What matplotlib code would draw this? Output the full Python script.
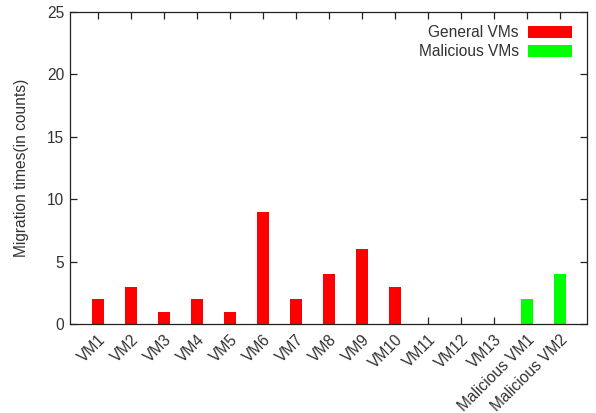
import matplotlib
matplotlib.use("Agg")
import matplotlib.pyplot as plt
import numpy as np

plt.rcParams["font.family"] = ["Liberation Sans", "DejaVu Sans"]

general_names = ["VM1", "VM2", "VM3", "VM4", "VM5", "VM6", "VM7",
                 "VM8", "VM9", "VM10", "VM11", "VM12", "VM13"]
general_counts = [2, 3, 1, 2, 1, 9, 2, 4, 6, 3, 0, 0, 0]
malicious_names = ["Malicious VM1", "Malicious VM2"]
malicious_counts = [2, 4]

labels = general_names + malicious_names
x_gen = np.arange(len(general_names))
x_mal = np.arange(len(general_names), len(labels))

fs = 11.2
txt = "#333333"

fig = plt.figure(figsize=(5.96, 4.13), dpi=100)
ax = fig.add_axes([0.1174, 0.2155, 0.8676, 0.7555])
ax.set_axisbelow(True)

w = 0.37
ax.bar(x_gen, general_counts, width=w, color="#ff0000", linewidth=0, label="General VMs")
ax.bar(x_mal, malicious_counts, width=w, color="#00ff00", linewidth=0, label="Malicious VMs")

ax.set_xlim(-0.85, len(labels) - 0.18)
ax.set_ylim(0, 25)
ax.set_yticks(range(0, 26, 5))
ax.set_xticks(np.arange(len(labels)))
ax.set_xticklabels(labels, rotation=45, ha="right", rotation_mode="anchor")

ax.tick_params(direction="in", length=5, width=0.9, top=True, right=True,
               labelsize=fs, labelcolor=txt, color="#222222", pad=4)
ax.tick_params(axis="x", pad=6)
for s in ax.spines.values():
    s.set_linewidth(0.9)
    s.set_color("#222222")

ax.set_ylabel("Migration times(in counts)", fontsize=fs, color=txt, labelpad=13)

ax.legend(loc="upper right", bbox_to_anchor=(0.991, 0.992), frameon=False,
          markerfirst=False, fontsize=fs, handlelength=2.8, handleheight=0.75,
          labelspacing=0.25, borderaxespad=0.3, handletextpad=0.6, labelcolor=txt)

fig.savefig("out.png", dpi=100)
